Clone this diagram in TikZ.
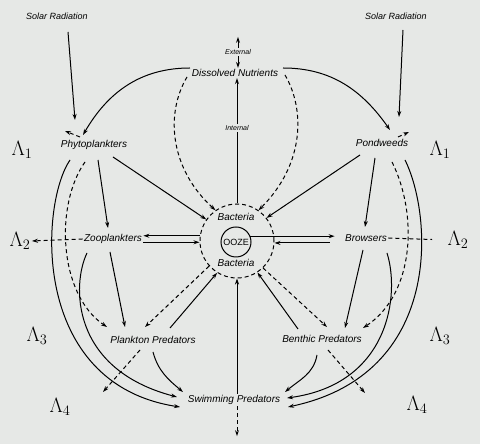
\documentclass[tikz,border=0pt]{standalone}
\usepackage{fontspec}
\setmainfont{Liberation Sans}
\usetikzlibrary{arrows.meta}
\definecolor{paper}{RGB}{230,232,230}
\begin{document}
\begin{tikzpicture}[x=1pt,y=1pt,line width=1pt,>={Stealth[length=6pt,width=4pt]},
		lbl/.style={font=\fontsize{10}{12}\selectfont\itshape,inner sep=1pt},
		sol/.style={font=\fontsize{9}{11}\selectfont\itshape,inner sep=1pt},
		tiny/.style={font=\fontsize{7}{8}\selectfont\itshape,inner sep=1pt},
		lam/.style={font=\fontsize{20}{22}\selectfont,inner sep=1pt},
		dsh/.style={dash pattern=on 4pt off 3pt}]
		\fill[paper] (0,0) rectangle (480,444);
		\useasboundingbox (0,0) rectangle (480,444);
		\node[sol] (sol1) at (57,428) {Solar Radiation};
		\node[sol] (sol2) at (396,428) {Solar Radiation};
		\node[lbl] (dn) at (235,371) {Dissolved Nutrients};
		\node[tiny] (ext) at (238,392) {External};
		\node[tiny] (int) at (237,316) {Internal};
		\node[lbl] (phy) at (94,299) {Phytoplankters};
		\node[lbl] (pon) at (382,301) {Pondweeds};
		\node[lbl] (zoo) at (113,205) {Zooplankters};
		\node[lbl] (brw) at (366,206) {Browsers};
		\node[circle,draw,dsh,minimum size=74pt,inner sep=0pt] (bac) at (237,203) {};
		\node[circle,draw,minimum size=30pt,inner sep=0pt,font=\fontsize{9}{10}\selectfont] (ooze) at (236,202) {OOZE};
		\node[lbl] (bac1) at (236,227) {Bacteria};
		\node[lbl] (bac2) at (236,181) {Bacteria};
		\node[lbl] (ppr) at (153,104) {Plankton Predators};
		\node[lbl] (bpr) at (322,105) {Benthic Predators};
		\node[lbl] (swp) at (234,44) {Swimming Predators};
		\node[lam] (l1a) at (22,294) {$\Lambda_1$};
		\node[lam] (l1b) at (440,294) {$\Lambda_1$};
		\node[lam] (l2a) at (20,203) {$\Lambda_2$};
		\node[lam] (l2b) at (458,204) {$\Lambda_2$};
		\node[lam] (l3a) at (37,108) {$\Lambda_3$};
		\node[lam] (l3b) at (440,108) {$\Lambda_3$};
		\node[lam] (l4a) at (60,37) {$\Lambda_4$};
		\node[lam] (l4b) at (417,39) {$\Lambda_4$};

		\draw[->] ([shift={(11,-16)}]sol1.center) -- ([shift={(-19,25)}]phy.center);
		\draw[->] ([shift={(7,-14)}]sol2.center) -- ([shift={(17,26)}]pon.center);
		\draw[->] ([shift={(-45,5)}]dn.center) to[out=180,in=60] ([shift={(-11,10)}]phy.center);
		\draw[->] ([shift={(48,5)}]dn.center) to[out=0,in=125] ([shift={(8,13)}]pon.center);
		\draw[dsh,->] ([shift={(-14,8)}]phy.center) -- ++(-15,6);
		\draw[dsh,->] ([shift={(16,6)}]pon.center) -- ++(11,5);
		\draw[->] (ext.north) -- ++(0,11);
		\draw[->] (ext.south) -- (ext.south |- dn.north);
		\draw (bac.north) -- (int.south);
		\draw[->] (int.north) -- (int.north |- dn.south);
		\draw[dsh,->] ([shift={(-48,-4)}]dn.center) .. controls (165,330) and (170,275) .. (bac.125);
		\draw[dsh,->] ([shift={(50,-2)}]dn.center) .. controls (305,335) and (305,280) .. (bac.55);

		\draw[->] ([shift={(19,-12)}]phy.center) -- (bac.145);
		\draw[->] ([shift={(-22,-12)}]pon.center) -- (bac.38);
		\draw[->] ([shift={(4,-15)}]phy.center) -- ([shift={(-5,11)}]zoo.center);
		\draw[->] ([shift={(-7,-15)}]pon.center) -- ([shift={(-1,11)}]brw.center);
		\draw[->] (bac.172) -- (bac.172 -| zoo.east);
		\draw[->] (zoo.east |- bac.182) -- (bac.182);
		\draw[->,shorten >=9pt] (ooze.22) -- (ooze.22 -| brw.west);
		\draw[->,shorten <=14pt] (brw.west |- bac.-3) -- (bac.-3);
		\draw[dsh,->] (zoo.west) -- (l2a.east);
		\draw[dsh,shorten >=14pt] (brw.east) -- (l2b.west);

		\draw[->] ([shift={(-24,-15)}]phy.center) .. controls (40,240) and (30,60) .. ([shift={(-54,-7)}]swp.center);
		\draw[dsh,->] ([shift={(-9,-17)}]phy.center) .. controls (55,240) and (58,150) .. ([shift={(-46,13)}]ppr.center);
		\draw[->] ([shift={(-26,-14)}]zoo.center) .. controls (72,160) and (70,75) .. ([shift={(-57,3)}]swp.center);
		\draw[->] ([shift={(-3,-13)}]zoo.center) -- ([shift={(-28,13)}]ppr.center);
		\draw[dsh,->] (bac.222) -- ([shift={(-8,13)}]ppr.center);
		\draw[->] ([shift={(17,12)}]ppr.center) -- (bac.238);
		\draw[->] ([shift={(0,-12)}]ppr.center) to[out=-75,in=140] ([shift={(-51,8)}]swp.center);
		\draw[dsh,->] ([shift={(-13,-10)}]ppr.center) -- ++(-37,-42);

		\draw[->] ([shift={(23,-17)}]pon.center) .. controls (432,230) and (445,70) .. ([shift={(54,-7)}]swp.center);
		\draw[dsh,->] ([shift={(10,-19)}]pon.center) .. controls (418,230) and (415,150) .. ([shift={(41,11)}]bpr.center);
		\draw[->] ([shift={(21,-15)}]brw.center) .. controls (400,150) and (390,60) .. ([shift={(53,2)}]swp.center);
		\draw[->] ([shift={(-3,-12)}]brw.center) -- ([shift={(23,11)}]bpr.center);
		\draw[dsh,->] (bac.-46) -- ([shift={(5,12)}]bpr.center);
		\draw[->] ([shift={(-24,10)}]bpr.center) -- (bac.-57);
		\draw[->] ([shift={(-5,-16)}]bpr.center) to[out=-100,in=40] ([shift={(51,8)}]swp.center);
		\draw[dsh,->] ([shift={(6,-11)}]bpr.center) -- ++(37,-43);

		\draw[->] (swp.north -| bac.south) -- (bac.south);
		\draw[dsh,->] (swp.south -| bac.south) -- ++(0,-30);
	\end{tikzpicture}
\end{document}
